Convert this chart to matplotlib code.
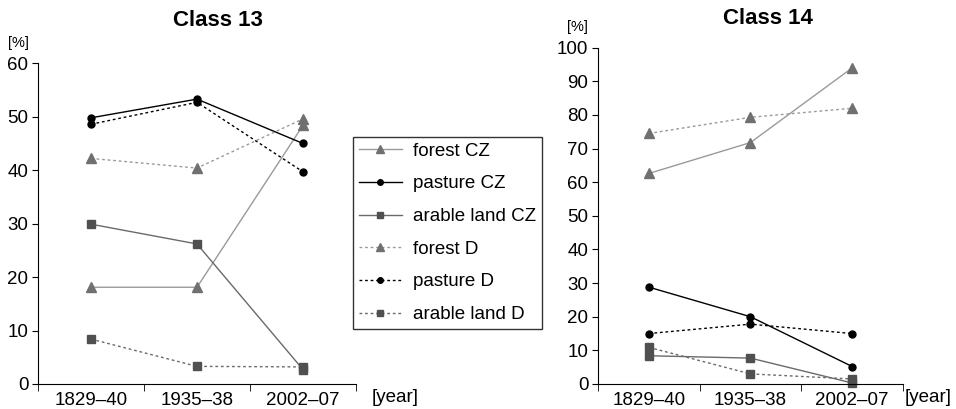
import matplotlib
matplotlib.use("Agg")
import matplotlib.pyplot as plt
import numpy as np

plt.rcParams['font.family'] = ['Liberation Sans', 'DejaVu Sans']

periods = ["1829\u201340", "1935\u201338", "2002\u201307"]
series_labels = ["forest CZ", "pasture CZ", "arable land CZ", "forest D", "pasture D", "arable land D"]

# Class 13
c13_forest_cz = [18.1, 18.1, 48.4]
c13_pasture_cz = [49.8, 53.3, 45.0]
c13_arable_cz = [29.9, 26.2, 2.7]
c13_forest_d = [42.2, 40.4, 49.6]
c13_pasture_d = [48.6, 52.7, 39.7]
c13_arable_d = [8.4, 3.3, 3.2]

# Class 14
c14_forest_cz = [62.6, 71.8, 94.0]
c14_pasture_cz = [28.8, 20.0, 5.2]
c14_arable_cz = [8.4, 7.7, 0.3]
c14_forest_d = [74.5, 79.3, 82.0]
c14_pasture_d = [15.0, 17.8, 15.0]
c14_arable_d = [10.9, 3.0, 1.5]

styles = [
    dict(color="#9a9a9a", ls="-", marker="^", mfc="#707070", mec="#707070", ms=6.5),
    dict(color="#000000", ls="-", marker="o", mfc="#000000", mec="#000000", ms=5),
    dict(color="#6a6a6a", ls="-", marker="s", mfc="#505050", mec="#505050", ms=5.5),
    dict(color="#9a9a9a", ls=(0, (2, 2)), marker="^", mfc="#707070", mec="#707070", ms=6.5),
    dict(color="#000000", ls=(0, (2, 2)), marker="o", mfc="#000000", mec="#000000", ms=5),
    dict(color="#6a6a6a", ls=(0, (2, 2)), marker="s", mfc="#505050", mec="#505050", ms=5.5),
]

fig = plt.figure(figsize=(9.56, 4.09), dpi=100)
ax1 = fig.add_axes([38/956, 25/409, 318/956, (384-63.3)/409])
ax2 = fig.add_axes([598/956, 25/409, 305/956, (384-47.7)/409])

x = np.arange(len(periods))

def setup(ax, data, ymax):
    handles = []
    for vals, st, lab in zip(data, styles, series_labels):
        h, = ax.plot(x, vals, lw=1.0, label=lab, clip_on=False, **st)
        handles.append(h)
    ax.set_xlim(-0.5, 2.5)
    ax.set_ylim(0, ymax)
    ax.spines['top'].set_visible(False)
    ax.spines['right'].set_visible(False)
    ax.set_yticks(np.arange(0, ymax + 1, 10))
    ax.tick_params(axis='y', direction='out', length=4, labelsize=13.5, pad=3)
    ax.set_xticks(x)
    ax.set_xticklabels(periods)
    ax.tick_params(axis='x', which='major', length=0, labelsize=13.5, pad=6)
    ax.set_xticks([-0.5, 0.5, 1.5, 2.5], minor=True)
    ax.tick_params(axis='x', which='minor', direction='out', length=5)
    return handles

d13 = [c13_forest_cz, c13_pasture_cz, c13_arable_cz, c13_forest_d, c13_pasture_d, c13_arable_d]
d14 = [c14_forest_cz, c14_pasture_cz, c14_arable_cz, c14_forest_d, c14_pasture_d, c14_arable_d]

handles = setup(ax1, d13, 60)
setup(ax2, d14, 100)

fig.text(218/956, 1 - 20/409, "Class 13", fontsize=16, fontweight='bold', ha='center', va='center')
fig.text(768/956, 1 - 18/409, "Class 14", fontsize=16, fontweight='bold', ha='center', va='center')

fig.text(8/956, 1 - 43/409, "[%]", fontsize=10.5, va='center', ha='left')
fig.text(567/956, 1 - 27/409, "[%]", fontsize=10.5, va='center', ha='left')
fig.text(372/956, 1 - 397/409, "[year]", fontsize=13.5, va='center', ha='left')
fig.text(905/956, 1 - 397/409, "[year]", fontsize=13.5, va='center', ha='left')

leg = fig.legend(handles=handles, loc='upper left',
                 bbox_to_anchor=(353/956, 1 - 137/409), fontsize=13.5,
                 fancybox=False, frameon=True, edgecolor='black',
                 handlelength=2.3, handletextpad=0.6, labelspacing=0.83,
                 borderpad=0.3, markerscale=0.8, borderaxespad=0)
leg.get_frame().set_linewidth(1.0)

fig.savefig("out.png", dpi=100)
